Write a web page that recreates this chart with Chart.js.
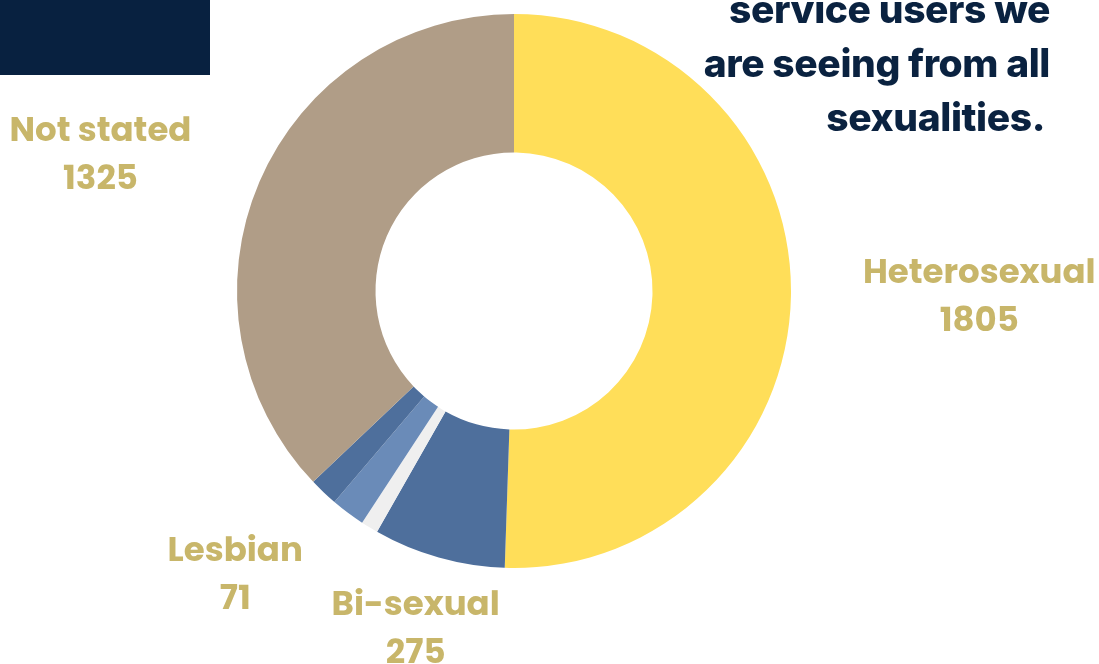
<!DOCTYPE html>
<html>
<head>
<meta charset="utf-8">
<script src="https://cdn.jsdelivr.net/npm/chart.js@4"></script>
<style>
  html, body { margin: 0; padding: 0; background: #ffffff; }
  #wrap { position: relative; width: 1099px; height: 664px; overflow: hidden; }
  #chart { position: absolute; left: 0; top: 0; }
  .bar { position: absolute; left: 0; top: 0; width: 210px; height: 75px; background: #082140; }
  .title {
    position: absolute; right: 49px; top: -18px; text-align: right;
    font-family: Inter, "Open Sans", sans-serif; font-weight: 800; font-size: 39px;
    line-height: 54px; color: #0a2240; letter-spacing: -0.4px;
  }
  .title span { padding-right: 5px; }
</style>
</head>
<body>
<div id="wrap">
  <canvas id="chart" width="1099" height="664"></canvas>
  <div class="bar"></div>
  <div class="title">service users we<br>are seeing from all<br><span>sexualities.</span></div>
</div>
<script>
// Service users by sexuality
var categories = ["Heterosexual", "Bi-sexual", "Other", "Lesbian", "Gay", "Not stated"];
var counts = [1805, 275, 36, 71, 60, 1325];
var colours = ["#ffde59", "#4e6f9c", "#efefef", "#6a8bb8", "#4e6f9c", "#b09d87"];

// which slices get an outside label, how far out (x outer radius) and a small angle nudge (deg)
var labelDistance = [1.68, 1.275, 0, 1.44, 0, 1.57];
var labelNudge = [0, 0.4, 0, 7.5, 0, -5.2];

var sliceLabels = {
    id: 'sliceLabels',
    afterDraw: function (chart) {
        var ctx = chart.ctx;
        var arcs = chart.getDatasetMeta(0).data;
        ctx.save();
        ctx.fillStyle = '#c8b66a';
        ctx.font = '700 34px Poppins, "Open Sans", sans-serif';
        ctx.textAlign = 'center';
        ctx.textBaseline = 'middle';
        for (var i = 0; i < arcs.length; i++) {
            if (!labelDistance[i]) continue;
            var p = arcs[i].getProps(['x', 'y', 'startAngle', 'endAngle', 'outerRadius'], true);
            var mid = (p.startAngle + p.endAngle) / 2 + labelNudge[i] * Math.PI / 180;
            var cx = p.x + Math.cos(mid) * p.outerRadius * labelDistance[i];
            var cy = p.y + Math.sin(mid) * p.outerRadius * labelDistance[i];
            ctx.fillText(categories[i], cx, cy - 24);
            ctx.fillText(String(counts[i]), cx, cy + 24);
        }
        ctx.restore();
    }
};

var chart = new Chart(document.getElementById('chart'), {
    type: 'doughnut',
    data: {
        labels: categories,
        datasets: [{
            data: counts,
            backgroundColor: colours,
            borderWidth: 0
        }]
    },
    options: {
        responsive: false,
        animation: false,
        cutout: '50%',
        layout: { padding: { left: 237, right: 308, top: 14, bottom: 96 } },
        plugins: {
            legend: { display: false },
            tooltip: { enabled: false }
        }
    },
    plugins: [sliceLabels]
});
</script>
</body>
</html>
